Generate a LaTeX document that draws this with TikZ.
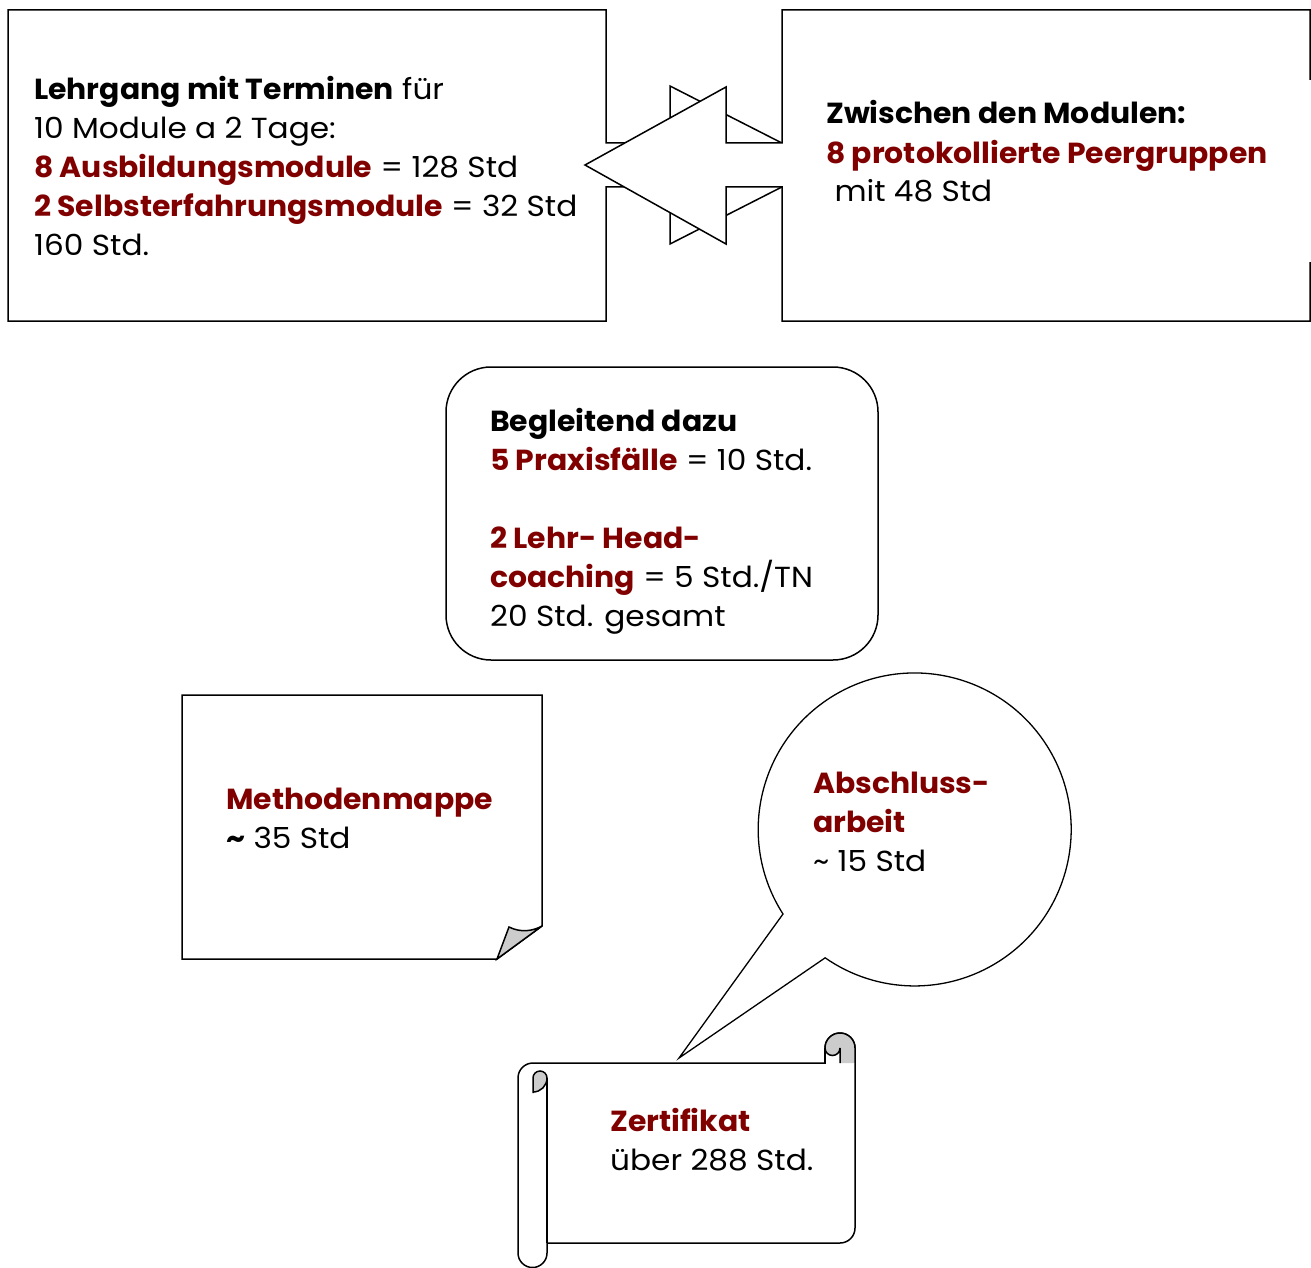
\documentclass[tikz,border=0pt]{standalone}
\usepackage{fontspec}
\setmainfont{Poppins}[UprightFeatures={FakeStretch=1.075},BoldFeatures={FakeStretch=1.03}]
\definecolor{dred}{RGB}{128,0,0}
\definecolor{curl}{RGB}{204,204,204}
\begin{document}
\begin{tikzpicture}[x=1pt,y=-1pt,line join=miter,
  boxshape/.style={draw=black,line width=1.5pt,fill=white},
  txt/.style={anchor=base west,inner sep=0pt,align=left,font=\fontsize{29}{39}\selectfont}]
\useasboundingbox (0,0) rectangle (1311,1268);
% left box: right arrow callout
\draw[boxshape] (8,10) -- (606,10) -- (606,143) -- (670,143) -- (670,86) -- (825,165)
  -- (670,244) -- (670,187) -- (606,187) -- (606,321) -- (8,321) -- cycle;
% right box: left arrow callout
\fill[white] (782,10) -- (1310,10) -- (1310,321) -- (782,321) -- (782,187) -- (726,187)
  -- (726,244) -- (585,165) -- (726,87) -- (726,143) -- (782,143) -- cycle;
\draw[line width=1.5pt] (1310,80) -- (1310,10) -- (782,10) -- (782,143) -- (726,143) -- (726,87)
  -- (585,165) -- (726,244) -- (726,187) -- (782,187) -- (782,321) -- (1310,321) -- (1310,262);
% middle rounded box
\draw[boxshape,rounded corners=45pt] (446,367) rectangle (878,660);
% Methodenmappe with folded corner
\draw[boxshape] (182,695) -- (542,695) -- (542,926) -- (497,959) -- (182,959) -- cycle;
\draw[line width=1.5pt,fill=curl] (497,959) -- (509,927) .. controls (521,933) and (533,931) .. (542,926) -- cycle;
% speech bubble
\draw[line width=1.3pt,fill=white] (783,914) arc[start angle=147.3,end angle=484.9,radius=156.5] -- (679,1058) -- cycle;
% scroll
\draw[boxshape] (518,1078) arc[start angle=180,end angle=270,radius=15] -- (825,1063) -- (825,1048)
  arc[start angle=180,end angle=360,radius=15] -- (855,1228)
  arc[start angle=0,end angle=90,radius=15] -- (547,1243) -- (547,1253)
  arc[start angle=0,end angle=180,radius=14.5] -- cycle;
\draw[line width=1.5pt] (547,1078) -- (547,1243);
\draw[line width=1.5pt,fill=curl] (533,1093) -- (533,1078) arc[start angle=180,end angle=360,radius=7]
  arc[start angle=0,end angle=90,radius=14] -- cycle;
\fill[curl] (840,1063) -- (840,1048) arc[start angle=0,end angle=180,radius=7.5]
  arc[start angle=180,end angle=360,radius=15] -- (855,1063) -- cycle;
\draw[line width=1.5pt] (825,1048) arc[start angle=180,end angle=360,radius=15] -- (855,1063);
\draw[line width=1.5pt] (840,1063) -- (840,1048) arc[start angle=0,end angle=180,radius=7.5];
\draw[line width=1.5pt] (825,1048) -- (825,1063);
% texts (base anchor = baseline of the last line)
\node[txt] (lehr) at (34,255) {\textbf{Lehrgang mit Terminen} für\\10 Module a 2 Tage:\\
  \textcolor{dred}{\textbf{8 Ausbildungsmodule}} = 128 Std\\
  \textcolor{dred}{\textbf{2 Selbsterfahrungsmodule}} = 32 Std\\160 Std.};
\node[txt] (zwischen) at (826,202) {\textbf{Zwischen den Modulen:}\\
  \textcolor{dred}{\textbf{8 protokollierte Peergruppen}}\\\ mit 48 Std};
\node[txt] (begl) at (490,626) {\textbf{Begleitend dazu}\\
  \textcolor{dred}{\textbf{5 Praxisfälle}} = 10 Std.\\[39pt]
  \textcolor{dred}{\textbf{2 Lehr- Head-}}\\
  \textcolor{dred}{\textbf{coaching}} = 5 Std./TN\\20 Std. gesamt};
\node[txt] (mappe) at (226,848) {\textcolor{dred}{\textbf{Methodenmappe}}\\\textbf{\char`~} 35 Std};
\node[txt] (abschluss) at (813,871) {\textcolor{dred}{\textbf{Abschluss-}}\\
  \textcolor{dred}{\textbf{arbeit}}\\\char`~{} 15 Std};
\node[txt] (zert) at (610,1170) {\textcolor{dred}{\textbf{Zertifikat}}\\über 288 Std.};
\end{tikzpicture}
\end{document}
